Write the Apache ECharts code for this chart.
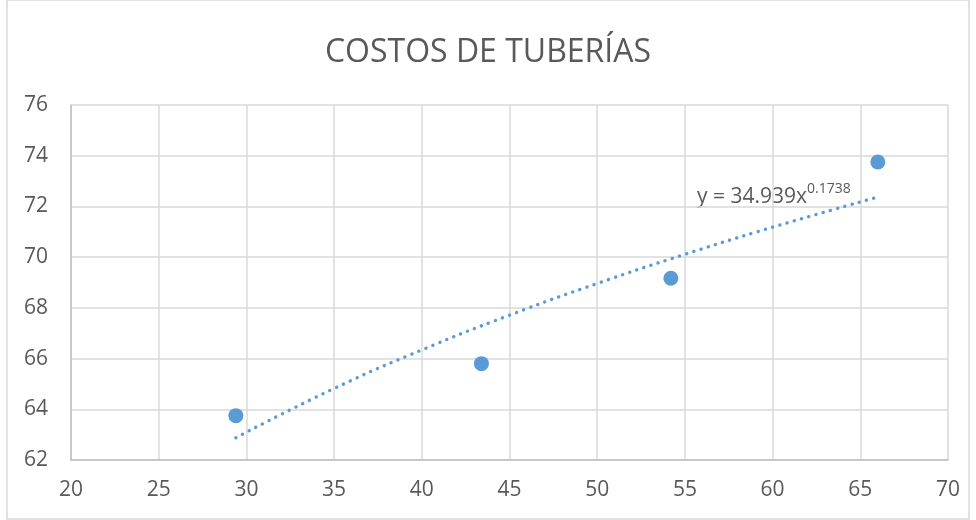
<!DOCTYPE html>
<html>
<head>
<meta charset="utf-8">
<script src="https://cdn.jsdelivr.net/npm/echarts@6/dist/echarts.min.js"></script>
<style>
  html, body { margin: 0; padding: 0; background: #fff; }
  #chart { width: 976px; height: 520px; }
</style>
</head>
<body>
<div id="chart"></div>
<script>
// datos
var xVals = [29.4, 43.4, 54.2, 66.0];
var yVals = [63.75, 65.8, 69.17, 73.75];
var trendX = [29.4, 35, 40, 45, 50, 55, 60, 66];
var trendY = [62.88, 64.82, 66.34, 67.71, 68.96, 70.11, 71.18, 72.37];
var xTicks = [20, 25, 30, 35, 40, 45, 50, 55, 60, 65, 70];
var yTicks = [62, 64, 66, 68, 70, 72, 74, 76];

var points = xVals.map(function (x, i) { return [x, yVals[i]]; });
var trend = trendX.map(function (x, i) { return [x, trendY[i]]; });

var myChart = echarts.init(document.getElementById('chart'));
var txt = '#595959';

var option = {
  animation: false,
  backgroundColor: '#fff',
  title: {
    text: 'COSTOS DE TUBERÍAS',
    left: 'center',
    top: 32,
    textStyle: { color: txt, fontSize: 32, fontWeight: 'normal', fontFamily: 'Open Sans' }
  },
  grid: { left: 71, right: 28, top: 105, bottom: 60 },
  xAxis: {
    type: 'value',
    min: xTicks[0],
    max: xTicks[xTicks.length - 1],
    interval: 5,
    axisLine: { show: true, onZero: false, lineStyle: { color: '#bfbfbf', width: 1.5 } },
    axisTick: { show: false },
    axisLabel: { color: txt, fontSize: 21, margin: 20, fontFamily: 'Open Sans' },
    splitLine: { show: true, lineStyle: { color: '#d9d9d9', width: 1.5 } }
  },
  yAxis: {
    type: 'value',
    min: yTicks[0],
    max: yTicks[yTicks.length - 1],
    interval: 2,
    axisLine: { show: true, onZero: false, lineStyle: { color: '#bfbfbf', width: 1.5 } },
    axisTick: { show: false },
    axisLabel: { color: txt, fontSize: 21, margin: 23, fontFamily: 'Open Sans' },
    splitLine: { show: true, lineStyle: { color: '#d9d9d9', width: 1.5 } }
  },
  series: [
    {
      type: 'line',
      data: trend,
      smooth: true,
      showSymbol: false,
      lineStyle: { color: '#5b9bd5', width: 3.4, type: [0.1, 7.4], cap: 'round' },
      z: 2
    },
    {
      type: 'scatter',
      data: points,
      symbolSize: 15,
      itemStyle: { color: '#5b9bd5', opacity: 1 },
      z: 3
    }
  ],
  graphic: [
    {
      type: 'rect',
      shape: { x: 7, y: 0, width: 962, height: 519 },
      style: { fill: 'none', stroke: '#d9d9d9', lineWidth: 1.5 },
      silent: true
    },
    {
      type: 'text',
      left: 697,
      top: 182,
      style: {
        text: '{a|y = 34.939x}{b|0.1738}',
        rich: {
          a: { fontSize: 21, fill: txt, fontFamily: 'Open Sans', verticalAlign: 'bottom' },
          b: { fontSize: 14, fill: txt, fontFamily: 'Open Sans', verticalAlign: 'top', padding: [0, 0, 12, 0] }
        }
      }
    }
  ]
};
myChart.setOption(option);
</script>
</body>
</html>
